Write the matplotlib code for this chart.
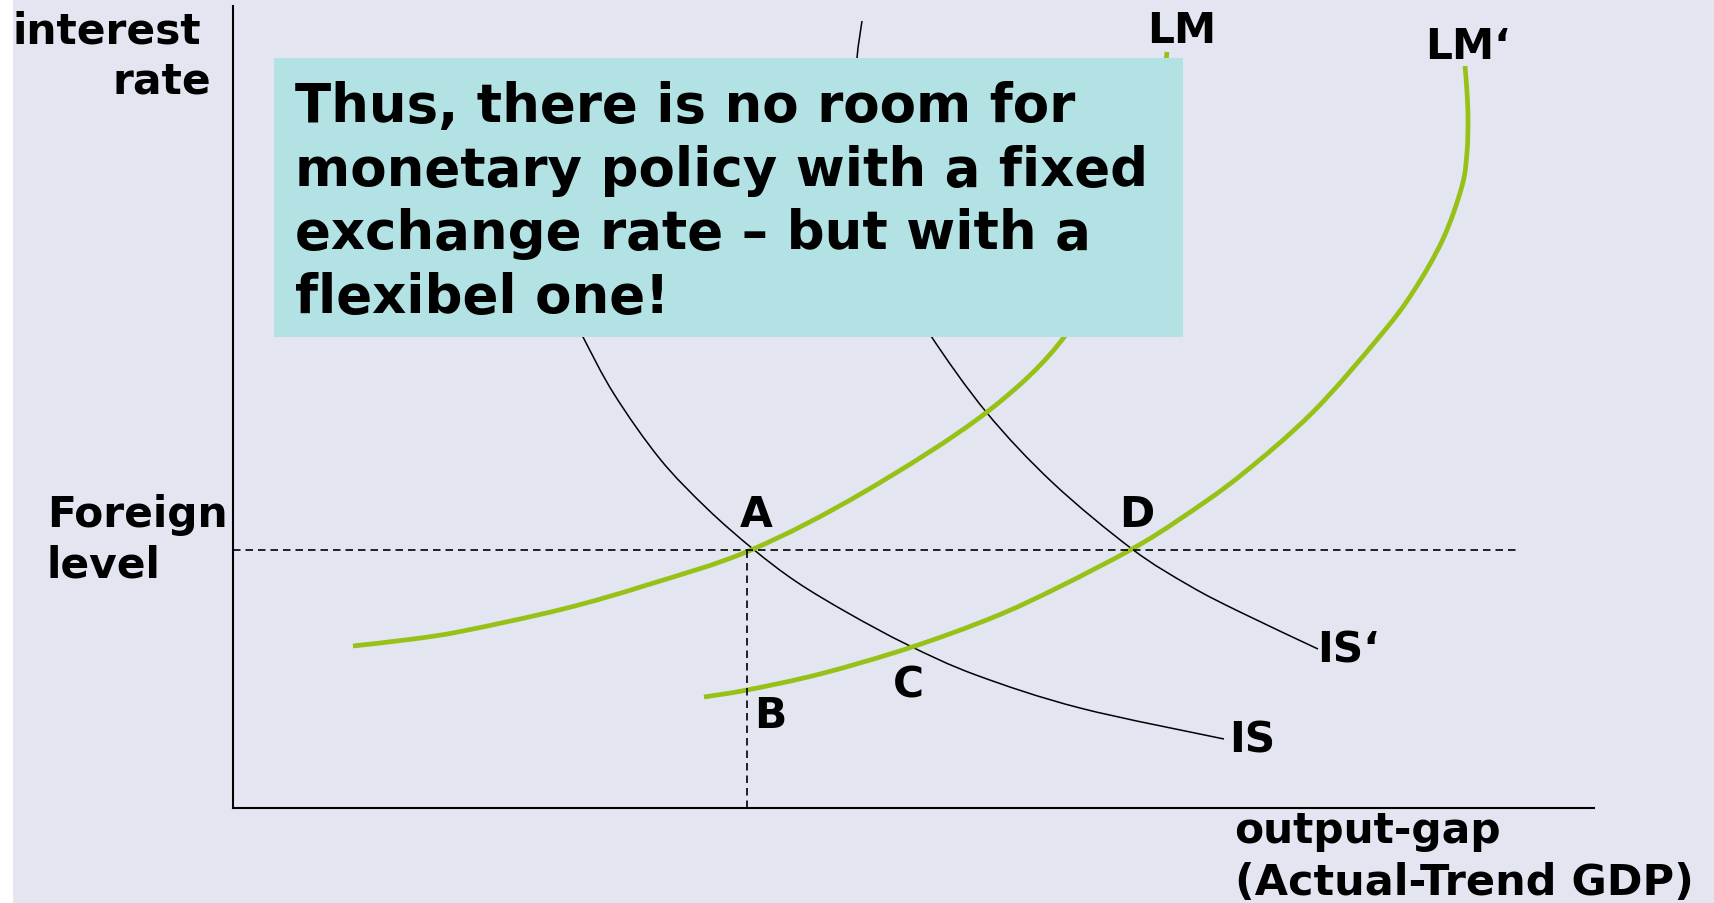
import matplotlib
matplotlib.use("Agg")
import matplotlib.pyplot as plt
from matplotlib.patches import Rectangle, PathPatch
from matplotlib.path import Path

# ---------------- data (arbitrary units: output gap, interest rate) ----------------
x_max, y_max = 1361, 802          # axis extents
foreign_rate = 258                # foreign interest level (horizontal dashed line)
output_A = 514                    # output gap at point A (vertical dashed line)
dash_end = 1284                   # end of horizontal dashed line

lm_x = [120, 180, 230, 330, 414, 518, 631, 754, 832, 877, 912, 929, 934]
lm_y = [162, 169, 177, 199, 223, 258, 316, 396, 472, 559, 659, 719, 756]

lm2_x = [471, 514, 587, 676, 761, 826, 899, 947, 1007, 1080, 1147, 1180, 1210, 1229, 1234, 1235, 1234, 1232]
lm2_y = [111, 118, 134, 160, 191, 221, 259, 289, 332, 396, 472, 516, 569, 622, 656, 689, 716, 742]

is_x = [327, 349.5, 381, 427, 474, 520, 563, 615, 675, 743, 847, 991]
is_y = [517, 472, 414, 349, 299.5, 259, 226.5, 195, 163, 133, 100, 69]

is2_x = [629, 624, 623, 633, 655, 672, 698, 754, 820, 899, 957, 1007, 1085]
is2_y = [787, 750, 709, 629, 559, 519, 472, 395, 325, 259, 222, 196, 159]

box_lines = ["Thus, there is no room for",
             "monetary policy with a fixed",
             "exchange rate \u2013 but with a",
             "flexibel one!"]

# ---------------- styling ----------------
W, H = 1714, 904
BG = "#E3E6F1"
BOX = "#B2E2E4"
GREEN = "#97C116"

plt.rcParams["font.family"] = ["DejaVu Sans"]
fig = plt.figure(figsize=(W / 100, H / 100), dpi=100)
fig.patch.set_facecolor(BG)

# white strip on the left edge
fig.add_artist(Rectangle((0, 0), 13 / W, 1, transform=fig.transFigure,
                         facecolor="white", edgecolor="none", zorder=-1))

ax = fig.add_axes([233 / W, 95 / H, 1361 / W, 802 / H])
ax.set_facecolor("none")
ax.set_xlim(0, x_max)
ax.set_ylim(0, y_max)
for s in ["top", "right"]:
    ax.spines[s].set_visible(False)
for s in ["left", "bottom"]:
    ax.spines[s].set_linewidth(1.5)
    ax.spines[s].set_color("black")
ax.set_xticks([])
ax.set_yticks([])

dash = (0, (4.5, 3.0))
ax.plot([0, dash_end], [foreign_rate, foreign_rate], color="black", lw=1.2, linestyle=dash)
ax.plot([output_A, output_A], [0, foreign_rate], color="black", lw=1.2, linestyle=dash)


def smooth_curve(xs, ys, color, lw):
    """Smooth path through the read points (Catmull-Rom as cubic Bezier segments)."""
    pts = list(zip(xs, ys))
    ext = [pts[0]] + pts + [pts[-1]]
    verts = [pts[0]]
    codes = [Path.MOVETO]
    for i in range(1, len(ext) - 2):
        p0, p1, p2, p3 = ext[i - 1], ext[i], ext[i + 1], ext[i + 2]
        c1 = (p1[0] + (p2[0] - p0[0]) / 6, p1[1] + (p2[1] - p0[1]) / 6)
        c2 = (p2[0] - (p3[0] - p1[0]) / 6, p2[1] - (p3[1] - p1[1]) / 6)
        verts += [c1, c2, p2]
        codes += [Path.CURVE4, Path.CURVE4, Path.CURVE4]
    ax.add_patch(PathPatch(Path(verts, codes), facecolor="none", edgecolor=color,
                           lw=lw, capstyle="butt", joinstyle="round"))


smooth_curve(is_x, is_y, "black", 1.1)
smooth_curve(is2_x, is2_y, "black", 1.1)
smooth_curve(lm_x, lm_y, GREEN, 3.4)
smooth_curve(lm2_x, lm2_y, GREEN, 3.4)

# text box
fig.add_artist(Rectangle((274 / W, 1 - 338 / H), 909 / W, 279 / H, transform=fig.transFigure,
                         facecolor=BOX, edgecolor="none", zorder=5))
for i, line in enumerate(box_lines):
    fig.text(295 / W, 1 - (122 + 63.7 * i) / H, line, fontsize=38.2, fontweight="bold",
             ha="left", va="baseline", zorder=6)


def label(px, py, s, ha="left", size=30.5):
    fig.text(px / W, 1 - py / H, s, fontsize=size, fontweight="bold", ha=ha, va="baseline", zorder=6)


label(12, 43, "interest")
label(211, 93, "rate", ha="right")
label(47, 527, "Foreign")
label(47, 578, "level")
label(1234, 843, "output-gap")
label(1235, 895, "(Actual-Trend GDP)", size=31)
label(740, 527, "A")
label(754, 728, "B")
label(893, 698, "C")
label(1119, 527, "D")
label(1229, 753, "IS")
label(1317, 663, "IS\u2018")
label(1147, 43, "LM")
label(1425, 59, "LM\u2018")

fig.savefig("out.png", dpi=100, facecolor=BG)
